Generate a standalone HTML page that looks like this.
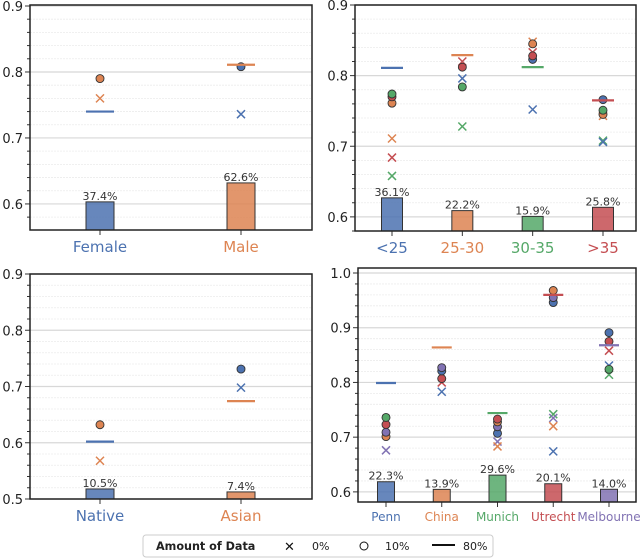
<!DOCTYPE html>
<html><head><meta charset="utf-8"><style>
body{margin:0;background:#fff;}
svg{display:block;font-family:"DejaVu Sans","Liberation Sans",sans-serif;}
</style></head><body>
<svg id="chart" width="640" height="559" viewBox="0 0 640 559" xmlns="http://www.w3.org/2000/svg">
<g id="legend">
<rect x="143" y="535" width="350" height="22" rx="3" fill="#fff" stroke="#ccc" stroke-width="1"/>
<text x="156" y="550" font-size="11.2" font-weight="bold" fill="#222">Amount of Data</text>
<text x="284" y="551" font-size="13" fill="#111">✕</text>
<text x="312" y="550" font-size="11" fill="#222">0%</text>
<circle cx="364" cy="546" r="4" fill="none" stroke="#111" stroke-width="1"/>
<text x="385" y="550" font-size="11" fill="#222">10%</text>
<line x1="432" y1="545" x2="455" y2="545" stroke="#111" stroke-width="2"/>
<text x="463" y="550" font-size="11" fill="#222">80%</text>
</g>
</svg>
<script>
const colors=["#4c72b0","#dd8452","#55a868","#c44e52","#8172b3"];
// Panel 1: gender
const p1Cats=["Female","Male"];
const p1Pct=[37.4,62.6];
const p1Line=[0.74,0.811];
const p1Circles=[[[1,0.79]],[[0,0.808]]];
const p1Crosses=[[[1,0.76]],[[0,0.736]]];
// Panel 2: age
const p2Cats=["<25","25-30","30-35",">35"];
const p2Pct=[36.1,22.2,15.9,25.8];
const p2Line=[0.811,0.829,0.812,0.765];
const p2Circles=[[[1,0.761],[3,0.770],[2,0.774]],[[2,0.784],[3,0.812]],[[0,0.823],[3,0.828],[1,0.845]],[[1,0.745],[2,0.751],[0,0.766]]];
const p2Crosses=[[[1,0.711],[3,0.684],[2,0.658]],[[3,0.82],[0,0.796],[2,0.728]],[[1,0.848],[3,0.833],[0,0.752]],[[1,0.743],[2,0.708],[0,0.706]]];
// Panel 3: ethnicity
const p3Cats=["Native","Asian"];
const p3Pct=[10.5,7.4];
const p3Line=[0.602,0.674];
const p3Circles=[[[1,0.632]],[[0,0.731]]];
const p3Crosses=[[[1,0.568]],[[0,0.698]]];
// Panel 4: site
const p4Cats=["Penn","China","Munich","Utrecht","Melbourne"];
const p4Pct=[22.3,13.9,29.6,20.1,14.0];
const p4Line=[0.799,0.864,0.744,0.96,0.868];
const p4Circles=[[[1,0.701],[4,0.709],[3,0.723],[2,0.736]],[[3,0.807],[0,0.821],[4,0.827]],[[0,0.707],[4,0.719],[1,0.728],[3,0.733]],[[0,0.946],[4,0.955],[1,0.968]],[[2,0.824],[3,0.875],[0,0.891]]];
const p4Crosses=[[[4,0.676]],[[3,0.8],[0,0.783]],[[4,0.692],[1,0.683]],[[2,0.742],[4,0.735],[1,0.72],[0,0.674]],[[3,0.858],[0,0.831],[2,0.814]]];

const NS="http://www.w3.org/2000/svg";
const svg=document.getElementById('chart');
function mk(t,a,p){const e=document.createElementNS(NS,t);for(const k in a)e.setAttribute(k,a[k]);(p||svg).appendChild(e);return e;}

function panel(o){
  const g=mk('g',{});
  
  
  const y=v=>o.y0+(o.ymax-v)/(o.ymax-o.ymin)*(o.y1-o.y0);
  const n=o.cats.length;
  const cx=i=>o.c0+i*(o.c1-o.c0)/(n-1);
  for(let v=Math.ceil(o.ymin*50)/50;v<=o.ymax+1e-9;v+=0.02){
    const yy=y(v);
    const major=Math.abs(v*10-Math.round(v*10))<1e-6;
    mk('line',{x1:o.x0,x2:o.x1,y1:yy,y2:yy,stroke:major?'#d8d8d8':'#ececec','stroke-width':major?1.2:0.8,'stroke-dasharray':major?'':'2,1'},g);
    mk('line',{x1:o.x0-(major?5:3),x2:o.x0,y1:yy,y2:yy,stroke:'#333','stroke-width':1},g);
    if(major){const t=mk('text',{x:o.x0-7,y:yy+5,'font-size':13,'text-anchor':'end',fill:'#222'},g);t.textContent=v.toFixed(1);
      
      }
  }
  for(let i=0;i<n;i++){
    const top=y(o.ymin+o.pct[i]*o.k);
    const b=mk('rect',{x:cx(i)-o.bw/2,y:top,width:o.bw,height:o.y1-top,fill:colors[i],'fill-opacity':0.85,stroke:'#333','stroke-width':1},g);
    
    
    const t=mk('text',{x:cx(i),y:top-2,'font-size':11,'text-anchor':'middle',fill:'#333'},g);t.textContent=o.pct[i].toFixed(1)+'%';
    
    
    mk('line',{x1:cx(i),x2:cx(i),y1:o.y1,y2:o.y1+5,stroke:'#333','stroke-width':1},g);
    const l=mk('text',{x:cx(i),y:o.y1+o.lfs+7,'font-size':o.lfs,'text-anchor':'middle',fill:colors[i]},g);l.textContent=o.cats[i];
    
    
  }
  for(let i=0;i<n;i++){
    o.crosses[i].forEach(([c,v])=>{const yy=y(v),s=4,x=cx(i);
      const p=mk('path',{d:`M${x-s},${yy-s}L${x+s},${yy+s}M${x-s},${yy+s}L${x+s},${yy-s}`,stroke:colors[c],'stroke-width':1.5,fill:'none'},g);
      
      });
    o.circles[i].forEach(([c,v])=>{
      const p=mk('circle',{cx:cx(i),cy:y(v),r:4,fill:colors[c],stroke:'#333','stroke-width':0.9},g);
      
      });
    const ly=y(o.line[i]);
    const ln=mk('line',{x1:cx(i)-o.lw/2,x2:cx(i)+o.lw/2,y1:ly,y2:ly,stroke:colors[i],'stroke-width':2.2},g);
    
    
  }
  mk('rect',{x:o.x0,y:o.top,width:o.x1-o.x0,height:o.y1-o.top,fill:'none',stroke:'#222','stroke-width':1.5},g);
}
panel({name:'gender-panel',cats:p1Cats,pct:p1Pct,line:p1Line,circles:p1Circles,crosses:p1Crosses,
  x0:30,x1:312,top:5,y0:6,y1:230,ymax:0.9,ymin:0.5605,k:0.00114,c0:100,c1:241,bw:28,lw:28,lfs:15});
panel({name:'age-panel',cats:p2Cats,pct:p2Pct,line:p2Line,circles:p2Circles,crosses:p2Crosses,
  x0:355,x1:636,top:5,y0:5,y1:231,ymax:0.9,ymin:0.58,k:0.0013,c0:392,c1:603,bw:21,lw:22,lfs:15});
panel({name:'ethnicity-panel',cats:p3Cats,pct:p3Pct,line:p3Line,circles:p3Circles,crosses:p3Crosses,
  x0:30,x1:312,top:274,y0:274,y1:499,ymax:0.9,ymin:0.5,k:0.0017,c0:100,c1:241,bw:28,lw:28,lfs:15});
panel({name:'site-panel',cats:p4Cats,pct:p4Pct,line:p4Line,circles:p4Circles,crosses:p4Crosses,
  x0:358,x1:636,top:268,y0:273,y1:502,ymax:1.0,ymin:0.5815,k:0.00166,c0:386,c1:609,bw:17,lw:20,lfs:12});
svg.appendChild(document.getElementById('legend'));
</script>
</body></html>
